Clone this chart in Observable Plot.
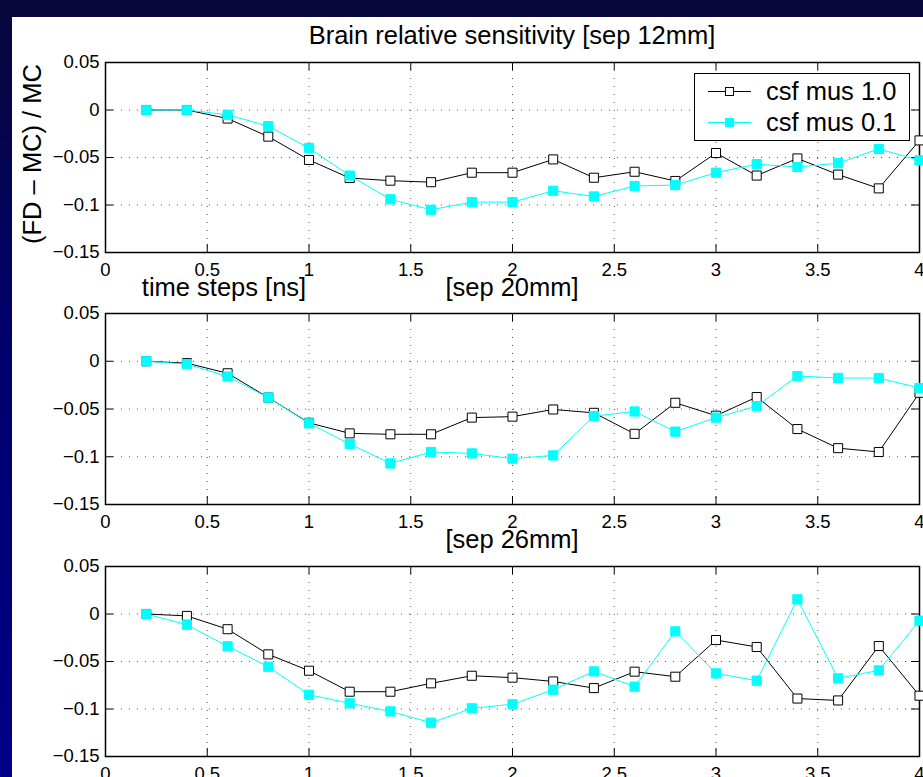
<!DOCTYPE html>
<html>
<head>
<meta charset="utf-8">
<script src="https://cdn.jsdelivr.net/npm/d3@7"></script>
<script src="https://cdn.jsdelivr.net/npm/@observablehq/plot@0.6"></script>
<style>
  html, body { margin: 0; padding: 0; overflow: hidden; }
  #chart {
    position: relative; width: 923px; height: 777px; overflow: hidden;
    background: linear-gradient(to bottom, #07073a 0%, #00006e 45%, #000088 100%);
    font-family: "Liberation Sans", Arial, Helvetica, sans-serif;
  }
  #paper { position: absolute; left: 12px; top: 17px; right: 0; bottom: 0; background: #fff; }
  .lbl { position: absolute; font-size: 25.5px; line-height: 1; white-space: nowrap; color: #000; transform: translate(-50%, -50%); }
  .panel { position: absolute; left: 0; }
</style>
</head>
<body>
<div id="chart"><div id="paper"></div></div>
<script>
// ---- data ----
const times = [0.2, 0.4, 0.6, 0.8, 1.0, 1.2, 1.4, 1.6, 1.8, 2.0, 2.2, 2.4, 2.6, 2.8, 3.0, 3.2, 3.4, 3.6, 3.8, 4.0];

const sep12_mus10 = [0, 0, -0.009, -0.028, -0.0526, -0.0716, -0.0744, -0.076, -0.066, -0.066, -0.052, -0.0713, -0.065, -0.0747, -0.0453, -0.069, -0.051, -0.068, -0.0825, -0.032];
const sep12_mus01 = [0, 0, -0.005, -0.017, -0.040, -0.069, -0.094, -0.105, -0.097, -0.097, -0.085, -0.091, -0.080, -0.079, -0.066, -0.057, -0.060, -0.056, -0.041, -0.053];

const sep20_mus10 = [0, -0.002, -0.0126, -0.038, -0.0645, -0.0755, -0.0765, -0.0765, -0.059, -0.058, -0.0505, -0.054, -0.076, -0.0435, -0.057, -0.0375, -0.071, -0.091, -0.095, -0.033];
const sep20_mus01 = [0, -0.003, -0.016, -0.038, -0.065, -0.0866, -0.107, -0.095, -0.0965, -0.102, -0.0986, -0.0575, -0.0526, -0.0737, -0.059, -0.047, -0.0155, -0.0175, -0.0176, -0.028];

const sep26_mus10 = [0, -0.002, -0.016, -0.0425, -0.0597, -0.0818, -0.0818, -0.073, -0.065, -0.067, -0.071, -0.078, -0.0607, -0.066, -0.0274, -0.0347, -0.089, -0.091, -0.0337, -0.086];
const sep26_mus01 = [0, -0.0113, -0.034, -0.0555, -0.085, -0.094, -0.1025, -0.1144, -0.0993, -0.095, -0.0797, -0.0604, -0.0765, -0.0183, -0.0625, -0.0702, 0.0154, -0.0678, -0.0594, -0.007];

const seriesNames = ["csf mus 1.0", "csf mus 0.1"];
const panelTitles = ["Brain relative sensitivity [sep 12mm]", "[sep 20mm]", "[sep 26mm]"];
const xAxisLabel = "time steps [ns]";
const yAxisLabel = "(FD \u2013 MC) / MC";

const xTicks = [0, 0.5, 1, 1.5, 2, 2.5, 3, 3.5, 4];
const xTickLabels = ["0", "0.5", "1", "1.5", "2", "2.5", "3", "3.5", "4"];
const yTicks = [0.05, 0, -0.05, -0.1, -0.15];
const yTickLabels = ["0.05", "0", "\u22120.05", "\u22120.1", "\u22120.15"];

// ---- styling / layout ----
const seriesStyles = [
  {stroke: "#000000", fill: "#ffffff", markerStroke: "#000000", r: 5.1},
  {stroke: "#00ffff", fill: "#00ffff", markerStroke: "#00ffff", r: 5.2}
];
const panelData = [[sep12_mus10, sep12_mus01], [sep20_mus10, sep20_mus01], [sep26_mus10, sep26_mus01]];
const layout = [
  {top: 50, height: 230, frameTop: 12, frameH: 190, titleY: 35.5},
  {top: 301, height: 230, frameTop: 12, frameH: 191, titleY: 288},
  {top: 554, height: 223, frameTop: 12, frameH: 190, titleY: 539.5}
];
const W = 923, mL = 105, mR = 4, tickLen = 8;
const innerW = W - mL - mR;
const xFmt = new Map(xTicks.map((t, i) => [t, xTickLabels[i]]));
const yFmt = new Map(yTicks.map((t, i) => [t, yTickLabels[i]]));

const chart = document.getElementById("chart");

panelData.forEach((series, p) => {
  const L = layout[p];
  const marks = [
    Plot.ruleX(xTicks, {x: d => d, stroke: "#555", strokeWidth: 1, strokeDasharray: "1,7"}),
    Plot.ruleY(yTicks, {y: d => d, stroke: "#555", strokeWidth: 1, strokeDasharray: "1,7"}),
    Plot.tickX(xTicks, {x: d => d, stroke: "#000", insetTop: L.frameH - tickLen}),
    Plot.tickX(xTicks, {x: d => d, stroke: "#000", insetBottom: L.frameH - tickLen}),
    Plot.tickY(yTicks, {y: d => d, stroke: "#000", insetRight: innerW - tickLen}),
    Plot.tickY(yTicks, {y: d => d, stroke: "#000", insetLeft: innerW - tickLen}),
    Plot.frame({stroke: "#000", strokeWidth: 1.5})
  ];
  series.forEach((vals, s) => {
    const rows = times.map((t, i) => ({t, v: vals[i]}));
    const st = seriesStyles[s];
    marks.push(Plot.line(rows, {x: "t", y: "v", stroke: st.stroke, strokeWidth: 1}));
    marks.push(Plot.dot(rows, {x: "t", y: "v", symbol: "square", r: st.r, fill: st.fill, stroke: st.markerStroke, strokeWidth: 1}));
  });
  const svg = Plot.plot({
    width: W,
    height: L.height,
    marginLeft: mL,
    marginRight: mR,
    marginTop: L.frameTop,
    marginBottom: L.height - L.frameTop - L.frameH,
    style: {background: "transparent", fontFamily: "'Liberation Sans', Arial, Helvetica, sans-serif", fontSize: "18.5px", overflow: "visible", color: "#000"},
    x: {domain: [0, 4], ticks: xTicks, tickSize: 0, tickPadding: 10, tickFormat: d => xFmt.get(d), label: null},
    y: {domain: [-0.15, 0.05], ticks: yTicks, tickSize: 0, tickPadding: 6, tickFormat: d => yFmt.get(d), label: null},
    marks
  });
  svg.classList.add("panel");
  svg.style.top = L.top + "px";
  chart.appendChild(svg);

  const title = document.createElement("div");
  title.className = "lbl";
  title.textContent = panelTitles[p];
  title.style.left = (mL + innerW / 2) + "px";
  title.style.top = L.titleY + "px";
  chart.appendChild(title);
});

// x label of the first panel (sits left of the second panel's title)
const xl = document.createElement("div");
xl.className = "lbl";
xl.textContent = xAxisLabel;
xl.style.left = "224px";
xl.style.top = "288px";
chart.appendChild(xl);

// y label
const yl = document.createElement("div");
yl.className = "lbl";
yl.textContent = yAxisLabel;
yl.style.left = "32.5px";
yl.style.top = "154px";
yl.style.transform = "translate(-50%, -50%) rotate(-90deg)";
chart.appendChild(yl);

// legend
const leg = document.createElement("div");
leg.style.cssText = "position:absolute;left:694px;top:72.5px;width:214px;height:66px;border:1.5px solid #000;background:#fff;";
chart.appendChild(leg);
seriesNames.forEach((name, s) => {
  const st = seriesStyles[s];
  const cy = 91.7 + s * 31;
  const line = document.createElement("div");
  line.style.cssText = `position:absolute;left:708px;top:${cy - 0.5}px;width:43px;height:1px;background:${st.stroke};`;
  chart.appendChild(line);
  const mk = document.createElement("div");
  const side = 9;
  mk.style.cssText = `position:absolute;left:${729.5 - side / 2}px;top:${cy - side / 2}px;width:${side}px;height:${side}px;box-sizing:border-box;background:${st.fill};border:1px solid ${st.markerStroke};`;
  chart.appendChild(mk);
  const tx = document.createElement("div");
  tx.className = "lbl";
  tx.textContent = name;
  tx.style.left = "766px";
  tx.style.top = cy + "px";
  tx.style.transform = "translate(0, -50%)";
  chart.appendChild(tx);
});
</script>
</body>
</html>
